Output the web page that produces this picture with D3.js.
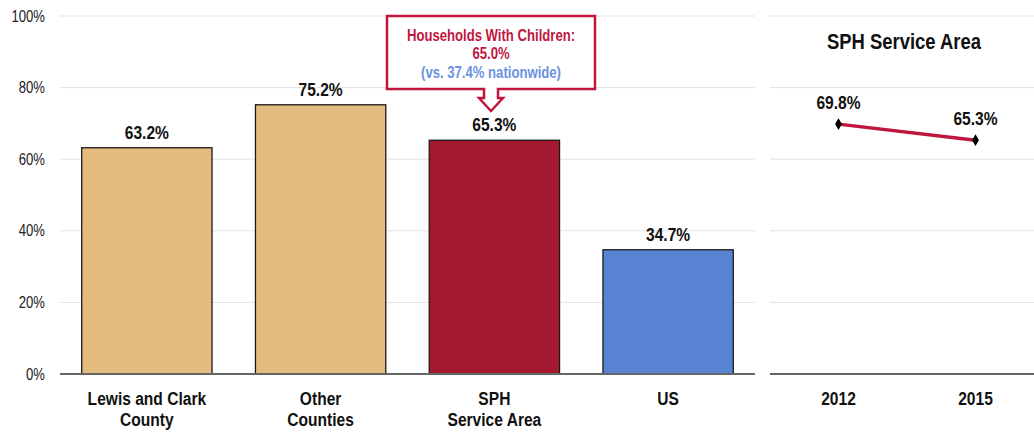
<!DOCTYPE html>
<html>
<head>
<meta charset="utf-8">
<script src="https://cdn.jsdelivr.net/npm/d3@7"></script>
<style>
  body { margin: 0; background: #fff; }
  svg { display: block; font-family: 'Liberation Sans', Arial, sans-serif; }
</style>
</head>
<body>
<div class="chart"></div>
<script>
// Data
const categories = [['Lewis and Clark', 'County'], ['Other', 'Counties'], ['SPH', 'Service Area'], ['US']];
const values = [63.2, 75.2, 65.3, 34.7];
const bar_colors = ['#e4bc80', '#e4bc80', '#a31a30', '#5883d3'];
const years = ['2012', '2015'];
const trend_values = [69.8, 65.3];
const y_ticks = [0, 20, 40, 60, 80, 100];
const callout_lines = ['Households With Children:', '65.0%', '(vs. 37.4% nationwide)'];

const width = 1034, height = 432;
const top_y = 16, base_y = 374;
// narrow face is not installed -> squeeze Liberation Sans horizontally
const narrow = 0.82;
const squeeze = (x, y) => `translate(${x},${y}) scale(${narrow},1)`;

const svg = d3.select('.chart').append('svg')
    .attr('width', width)
    .attr('height', height);

// scales
const y_scale = d3.scaleLinear().domain([0, 100]).range([base_y, top_y]);
const x_scale = d3.scaleBand().domain(d3.range(values.length)).range([60, 755]).paddingInner(0.25).paddingOuter(0.125);
const x_year = d3.scalePoint().domain(years).range([770, 1044]).padding(0.5);
const x_mid = i => x_scale(i) + x_scale.bandwidth() / 2;

// gridlines (left + right panel)
const grid = svg.append('g').attr('class', 'grid');
[[60, 755], [770, 1034]].forEach(r => {
    grid.selectAll(null)
        .data(y_ticks.filter(d => d > 0))
        .enter()
        .append('line')
        .attr('x1', r[0]).attr('x2', r[1])
        .attr('y1', d => y_scale(d)).attr('y2', d => y_scale(d))
        .style('stroke', '#e3e3e3')
        .style('stroke-width', 1);
});

// y tick labels
const y_axis = d3.axisLeft(y_scale).tickValues(y_ticks).tickFormat(d => d + '%').tickSize(0).tickPadding(0);
const y_g = svg.append('g').attr('transform', 'translate(45,0)').call(y_axis);
y_g.select('.domain').remove();
y_g.attr('font-family', null);
y_g.selectAll('text')
    .attr('transform', `scale(${narrow},1)`)
    .style('font-size', '16px')
    .style('fill', '#222');

// bars
svg.append('g').selectAll('rect')
    .data(values)
    .enter()
    .append('rect')
    .attr('x', (d, i) => x_scale(i))
    .attr('width', x_scale.bandwidth())
    .attr('y', d => y_scale(d))
    .attr('height', d => base_y - y_scale(d))
    .style('fill', (d, i) => bar_colors[i])
    .style('stroke', '#1a1a1a')
    .style('stroke-width', 1.3);

// value labels
svg.append('g').selectAll('text')
    .data(values)
    .enter()
    .append('text')
    .attr('transform', (d, i) => squeeze(x_mid(i), y_scale(d) - 9))
    .attr('text-anchor', 'middle')
    .style('font-size', '19px')
    .style('font-weight', 'bold')
    .style('fill', '#111')
    .text(d => d.toFixed(1) + '%');

// baselines
[[60, 755], [770, 1034]].forEach(r => {
    svg.append('line')
        .attr('x1', r[0]).attr('x2', r[1])
        .attr('y1', base_y).attr('y2', base_y)
        .style('stroke', '#666')
        .style('stroke-width', 2);
});

// category labels
const cat_g = svg.append('g').selectAll('text')
    .data(categories)
    .enter()
    .append('text')
    .attr('transform', (d, i) => squeeze(x_mid(i), 405))
    .attr('text-anchor', 'middle')
    .style('font-size', '19px')
    .style('font-weight', 'bold')
    .style('fill', '#111');
cat_g.selectAll('tspan')
    .data(d => d)
    .enter()
    .append('tspan')
    .attr('x', 0)
    .attr('y', (d, j) => j * 21)
    .text(d => d);

// right panel: title
svg.append('text')
    .attr('transform', squeeze(904, 49))
    .attr('text-anchor', 'middle')
    .style('font-size', '22.5px')
    .style('font-weight', 'bold')
    .style('fill', '#111')
    .text('SPH Service Area');

// trend line
const trend = years.map((y, i) => ({year: y, value: trend_values[i]}));
const line_gen = d3.line().x(d => x_year(d.year)).y(d => y_scale(d.value));
svg.append('path')
    .attr('d', line_gen(trend))
    .style('fill', 'none')
    .style('stroke', '#c0163e')
    .style('stroke-width', 3.5);
svg.append('g').selectAll('path')
    .data(trend)
    .enter()
    .append('path')
    .attr('d', d3.symbol().type(d3.symbolDiamond).size(40))
    .attr('transform', d => `translate(${x_year(d.year)},${y_scale(d.value)})`)
    .style('fill', '#000');
svg.append('g').selectAll('text')
    .data(trend)
    .enter()
    .append('text')
    .attr('transform', d => squeeze(x_year(d.year), y_scale(d.value) - 15))
    .attr('text-anchor', 'middle')
    .style('font-size', '19px')
    .style('font-weight', 'bold')
    .style('fill', '#111')
    .text(d => d.value.toFixed(1) + '%');

// year labels
svg.append('g').selectAll('text')
    .data(years)
    .enter()
    .append('text')
    .attr('transform', d => squeeze(x_year(d), 405))
    .attr('text-anchor', 'middle')
    .style('font-size', '19px')
    .style('font-weight', 'bold')
    .style('fill', '#111')
    .text(d => d);

// callout box with arrow
const cx = 491, bx0 = 387, bx1 = 595, by0 = 16, by1 = 89;
const callout_path = [
    [bx0, by0], [bx1, by0], [bx1, by1], [cx + 7, by1], [cx + 7, by1 + 9], [cx + 12, by1 + 9],
    [cx, by1 + 22], [cx - 12, by1 + 9], [cx - 7, by1 + 9], [cx - 7, by1], [bx0, by1]
];
svg.append('path')
    .attr('d', d3.line()(callout_path) + 'Z')
    .style('fill', '#fff')
    .style('stroke', '#c0163e')
    .style('stroke-width', 2.5)
    .style('stroke-linejoin', 'miter');
svg.append('text')
    .attr('transform', squeeze(cx, 41))
    .attr('text-anchor', 'middle')
    .style('font-size', '16px')
    .style('font-weight', 'bold')
    .selectAll('tspan')
    .data(callout_lines)
    .enter()
    .append('tspan')
    .attr('x', 0)
    .attr('y', (d, i) => i * 18.5)
    .style('fill', (d, i) => i < 2 ? '#c0163e' : '#6a93e0')
    .text(d => d);
</script>
</body>
</html>
